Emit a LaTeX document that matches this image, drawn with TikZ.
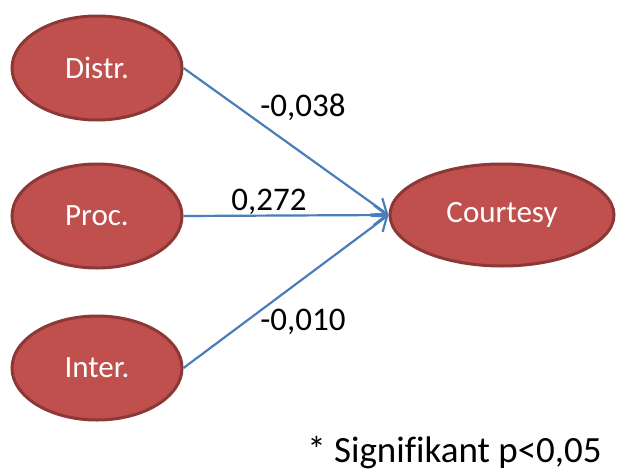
\documentclass[tikz,border=0pt]{standalone}
\usepackage{fontspec}
\setmainfont[Ligatures=NoCommon]{Carlito}
\usetikzlibrary{arrows.meta,shapes.geometric}
\definecolor{ellfill}{HTML}{C0504D}
\definecolor{elldraw}{HTML}{8C3836}
\definecolor{arrblue}{HTML}{4A7EBB}
\begin{document}
\begin{tikzpicture}[x=1pt,y=-1pt,
  ell/.style={ellipse, draw=elldraw, fill=ellfill, line width=3pt, text=white,
    font=\fontsize{31}{36}\selectfont, inner sep=0pt},
  conn/.style={draw=arrblue, line width=2.2pt, -{Straight Barb[length=13pt,width=20pt,line width=2.2pt]}},
  lbl/.style={font=\fontsize{33}{38}\selectfont, text=black, inner sep=0pt}]
\useasboundingbox (0,0) rectangle (617,471);
\node[ell, minimum width=170pt, minimum height=104pt] (distr) at (97,68) {Distr.};
\node[ell, minimum width=170pt, minimum height=104pt] (proc) at (97,216) {Proc.};
\node[ell, minimum width=170pt, minimum height=104pt] (inter) at (97,368) {Inter.};
\node[ell, minimum width=224pt, minimum height=102pt] (court) at (502,215) {Courtesy};
\draw[conn] (distr.east) -- (court.west);
\draw[conn] (proc.east) -- (court.west);
\draw[conn] (inter.east) -- (court.west);
\node[lbl] (l1) at (303,107) {-0,038};
\node[lbl] (l2) at (269,202) {0,272};
\node[lbl] (l3) at (303,322) {-0,010};
\node[lbl, font=\fontsize{37}{42}\selectfont, anchor=base east] (note) at (602,462) {* Signifikant p<0,05};
\end{tikzpicture}
\end{document}
